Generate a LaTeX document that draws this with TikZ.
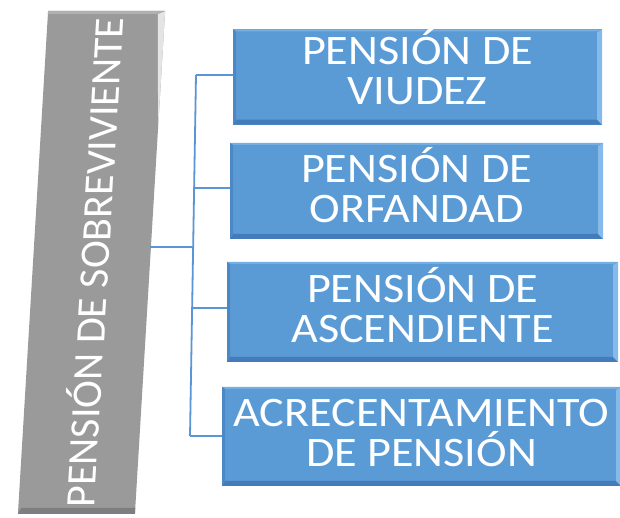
\documentclass[tikz,border=0pt]{standalone}
\usepackage{fontspec}
\setmainfont{Carlito}
\newfontfamily\boxfont[FakeStretch=1.1]{Carlito}
\definecolor{boxblue}{HTML}{5B9BD5}
\definecolor{bluelight}{HTML}{86BAEA}
\definecolor{bluedark}{HTML}{437BBB}
\definecolor{linkblue}{HTML}{5A96D6}
\definecolor{boxgray}{HTML}{9A9A9A}
\definecolor{graylight}{HTML}{E4E4E4}
\definecolor{graydark}{HTML}{7E7E7E}
\tikzset{
  bluebox/.style={
    rectangle, fill=boxblue, inner sep=0pt, align=center,
    text=white, font=\boxfont\fontsize{42}{40}\selectfont,
    path picture={
      \fill[bluedark] (path picture bounding box.south west)
        -- (path picture bounding box.south east)
        -- ([shift={(-5pt,5pt)}]path picture bounding box.south east)
        -- ([shift={(3pt,5pt)}]path picture bounding box.south west) -- cycle;
      \fill[bluelight] (path picture bounding box.south east)
        -- (path picture bounding box.north east)
        -- ([shift={(-5pt,-3pt)}]path picture bounding box.north east)
        -- ([shift={(-5pt,5pt)}]path picture bounding box.south east) -- cycle;
      \fill[bluelight!60!boxblue] (path picture bounding box.north west)
        -- (path picture bounding box.north east)
        -- ([shift={(-5pt,-2pt)}]path picture bounding box.north east)
        -- ([shift={(3pt,-2pt)}]path picture bounding box.north west) -- cycle;
      \fill[bluedark!60!boxblue] (path picture bounding box.north west)
        -- (path picture bounding box.south west)
        -- ([shift={(3pt,5pt)}]path picture bounding box.south west)
        -- ([shift={(3pt,-2pt)}]path picture bounding box.north west) -- cycle;
    }},
  graybox/.style={
    rectangle, fill=boxgray, inner sep=0pt, text=white,
    font=\fontsize{42}{42}\selectfont,
    path picture={
      \fill[graydark] (path picture bounding box.south west)
        -- (path picture bounding box.south east)
        -- ([shift={(-7pt,6pt)}]path picture bounding box.south east)
        -- ([shift={(3pt,6pt)}]path picture bounding box.south west) -- cycle;
      \fill[graylight] (path picture bounding box.south east)
        -- (path picture bounding box.north east)
        -- ([shift={(-7pt,-3pt)}]path picture bounding box.north east)
        -- ([shift={(-7pt,6pt)}]path picture bounding box.south east) -- cycle;
      \fill[boxgray!70!graylight] (path picture bounding box.north west)
        -- (path picture bounding box.north east)
        -- ([shift={(-7pt,-3pt)}]path picture bounding box.north east)
        -- ([shift={(3pt,-3pt)}]path picture bounding box.north west) -- cycle;
    }},
  link/.style={draw=linkblue, line width=1.8pt}
}
\begin{document}
\begin{tikzpicture}[x=1pt,y=1pt]
\useasboundingbox[fill=white] (0,0) rectangle (620,518);
% left gray box
\node[graybox, xslant=0.06, transform shape, minimum width=117pt, minimum height=503pt]
  (gray) at (91.5,255.5) {\rotatebox{90}{PENSIÓN DE SOBREVIVIENTE}};
% blue boxes
\node[bluebox, minimum width=369pt, minimum height=90pt, text depth=20pt] (b1) at (417.5,441) {PENSIÓN DE\\VIUDEZ};
\node[bluebox, minimum width=373pt, minimum height=96pt, text depth=12pt] (b2) at (416.5,327) {PENSIÓN DE\\ORFANDAD};
\node[bluebox, minimum width=391pt, minimum height=100pt, text depth=14pt] (b3) at (422.5,206) {PENSIÓN DE\\ASCENDIENTE};
\node[bluebox, minimum width=399pt, minimum height=99pt, text depth=8pt] (b4) at (421.5,81.5) {ACRECENTAMIENTO\\DE PENSIÓN};
% connector junctions
\coordinate (t1) at (196,443);
\coordinate (t2) at (194.1,330);
\coordinate (j0) at (193.1,271);
\coordinate (t3) at (192.1,210);
\coordinate (t4) at (190,82);
\draw[link] (t1) -- (t4);
\draw[link] (j0 -| gray.east) -- (j0);
\draw[link] (t1) -- (t1 -| b1.west);
\draw[link] (t2) -- (t2 -| b2.west);
\draw[link] (t3) -- (t3 -| b3.west);
\draw[link] (t4) -- (t4 -| b4.west);
\end{tikzpicture}
\end{document}
